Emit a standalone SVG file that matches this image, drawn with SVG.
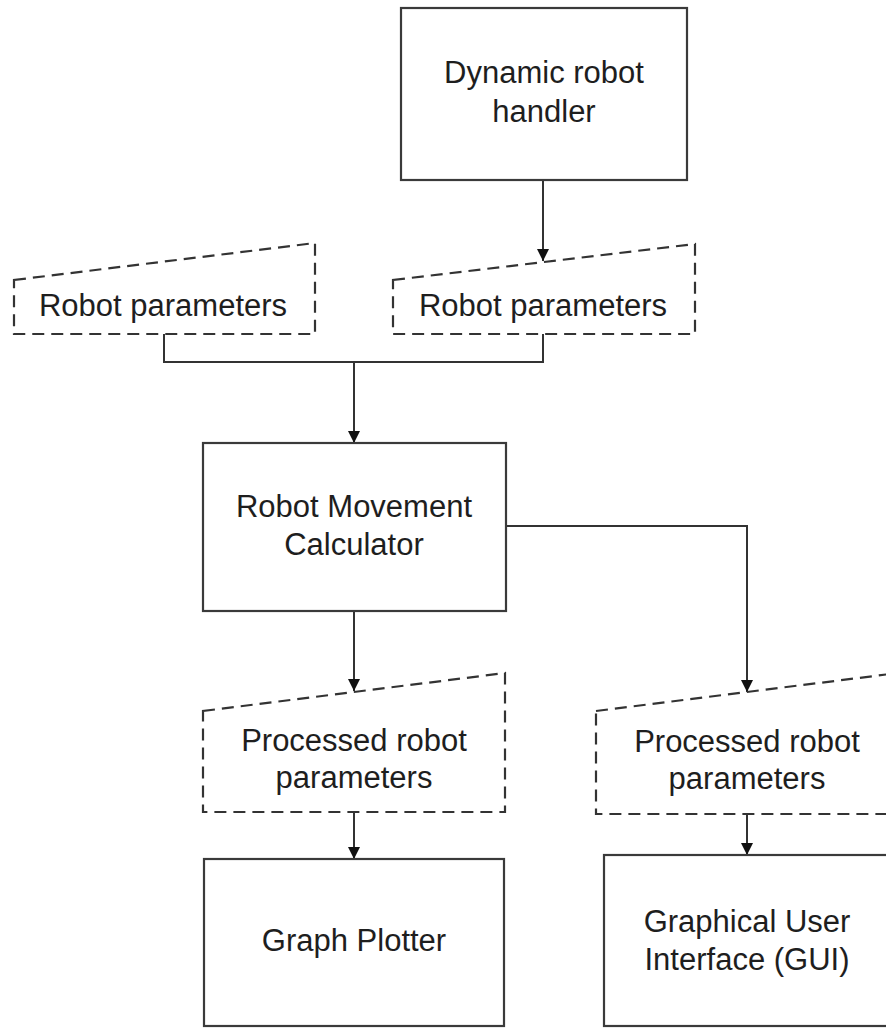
<svg xmlns="http://www.w3.org/2000/svg" width="886" height="1028" viewBox="0 0 886 1028">
  <style>
    .box { fill: #ffffff; stroke: #3a3a3a; stroke-width: 2.2; }
    .data { fill: #ffffff; stroke: #333333; stroke-width: 2.2; stroke-dasharray: 12 7; }
    .label { font-family: "Liberation Sans", Arial, sans-serif; font-size: 31px; fill: #1e1e1e; text-anchor: middle; }
    .wire { fill: none; stroke: #333333; stroke-width: 2; }
  </style>
  <defs>
    <marker id="arrow" viewBox="0 0 10 10" refX="10" refY="5" markerWidth="12" markerHeight="12" markerUnits="userSpaceOnUse" orient="auto">
      <path d="M0,0 L10,5 L0,10 Z" fill="#111111"/>
    </marker>
  </defs>
  <rect width="886" height="1028" fill="#ffffff"/>

  <g id="connectors">
    <line class="wire" x1="543" y1="180" x2="543" y2="261" marker-end="url(#arrow)"/>
    <polyline class="wire" points="164,334 164,362 543,362 543,334"/>
    <line class="wire" x1="354" y1="362" x2="354" y2="443" marker-end="url(#arrow)"/>
    <line class="wire" x1="354" y1="611" x2="354" y2="691" marker-end="url(#arrow)"/>
    <polyline class="wire" points="506,526 747,526 747,692" marker-end="url(#arrow)"/>
    <line class="wire" x1="354" y1="812" x2="354" y2="859" marker-end="url(#arrow)"/>
    <line class="wire" x1="747" y1="814" x2="747" y2="855" marker-end="url(#arrow)"/>
  </g>

  <g id="dynamic-robot-handler">
    <rect class="box" x="401" y="8" width="286" height="172"/>
    <text class="label" x="544" y="83">Dynamic robot</text>
    <text class="label" x="544" y="122">handler</text>
  </g>

  <g id="robot-parameters-left">
    <path class="data" d="M14,280 L315,243 L315,334 L14,334 Z"/>
    <text class="label" x="163" y="316">Robot parameters</text>
  </g>

  <g id="robot-parameters-right">
    <path class="data" d="M393,280 L695,244 L695,334 L393,334 Z"/>
    <text class="label" x="543" y="316">Robot parameters</text>
  </g>

  <g id="robot-movement-calculator">
    <rect class="box" x="203" y="443" width="303" height="168"/>
    <text class="label" x="354" y="517">Robot Movement</text>
    <text class="label" x="354" y="555">Calculator</text>
  </g>

  <g id="processed-parameters-left">
    <path class="data" d="M203,711 L505,673 L505,812 L203,812 Z"/>
    <text class="label" x="354" y="751">Processed robot</text>
    <text class="label" x="354" y="788">parameters</text>
  </g>

  <g id="processed-parameters-right">
    <path class="data" d="M596,711 L898,673 L898,814 L596,814 Z"/>
    <text class="label" x="747" y="752">Processed robot</text>
    <text class="label" x="747" y="789">parameters</text>
  </g>

  <g id="graph-plotter">
    <rect class="box" x="204" y="859" width="300" height="167"/>
    <text class="label" x="354" y="951">Graph Plotter</text>
  </g>

  <g id="gui">
    <rect class="box" x="604" y="855" width="300" height="171"/>
    <text class="label" x="747" y="932">Graphical User</text>
    <text class="label" x="747" y="970">Interface (GUI)</text>
  </g>
</svg>
